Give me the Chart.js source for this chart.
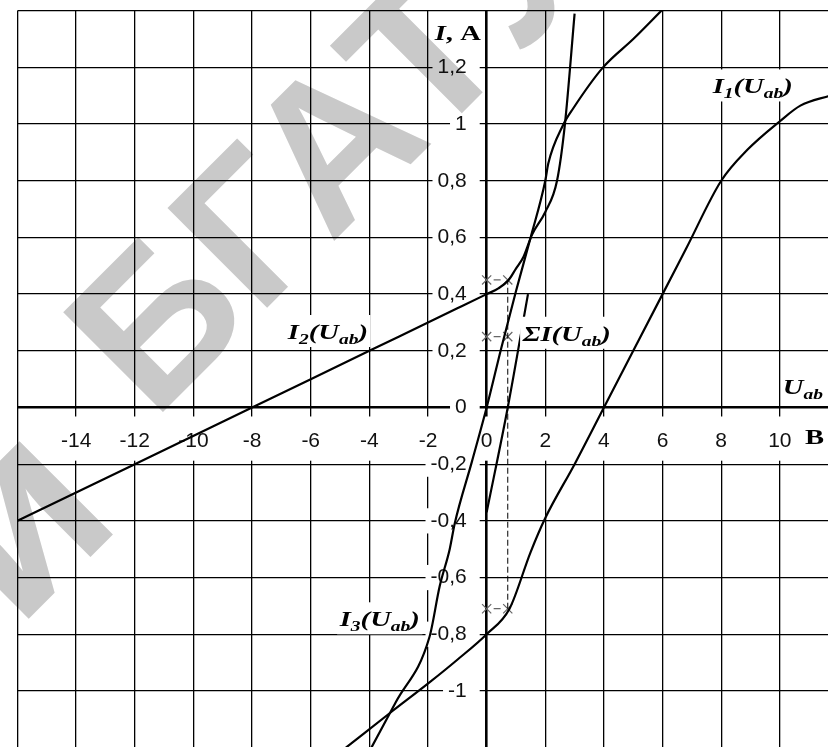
<!DOCTYPE html>
<html>
<head>
<meta charset="utf-8">
<script src="https://cdn.jsdelivr.net/npm/chart.js@4"></script>
<style>
  html, body { margin: 0; padding: 0; background: #fff; overflow: hidden; }
  #wrap { position: relative; width: 828px; height: 747px; overflow: hidden; }
  #plot { position: absolute; left: -40px; top: -40px; }
</style>
</head>
<body>
<div id="wrap"><canvas id="plot" width="900" height="820"></canvas></div>
<script>
// --- branch characteristics I(Uab) ---
const I1_U = [-4.8, -3.2, -1.95, -1.0, 0, 0.78, 1.5, 2, 3, 4, 5, 6, 6.8, 8, 8.9, 10, 10.7, 11.7, 12];
const I1_I = [-1.2, -1.07, -0.97, -0.89, -0.8, -0.71, -0.51, -0.39, -0.2, 0, 0.2, 0.4, 0.56, 0.8, 0.91, 1.01, 1.065, 1.1, 1.11];

const I2_U = [-16, -12, -8, -4, -2, -1, 0, 0.4, 0.75, 1.0, 1.25, 1.55, 2.0, 2.4, 2.67, 3.0];
const I2_I = [-0.4, -0.2, 0, 0.2, 0.3, 0.35, 0.4, 0.42, 0.45, 0.49, 0.53, 0.61, 0.69, 0.8, 1.0, 1.39];

const I3_U = [-3.93, -3.1, -1.95, -1.6, -1.26, -1.09, -0.5, 0, 0.5, 1.0, 1.5, 2.0, 2.1, 2.6, 2.95, 3.97, 5.0, 5.96];
const I3_I = [-1.2, -1.04, -0.81, -0.63, -0.5, -0.41, -0.19, 0, 0.21, 0.41, 0.6, 0.8, 0.86, 0.995, 1.055, 1.2, 1.3, 1.4];

const SUM_U = [0, 0.72, 1.41];
const SUM_I = [-0.37, 0, 0.4];

// operating point: Uab where the sum crosses zero, and branch currents there
const OP_U = [0, 0.72];
const OP_LEVELS = [0.45, 0.25, -0.71];
const OP_DROP = [-0.71, 0.45];

// axes
const U_MIN = -16, U_MAX = 12, U_STEP = 2;
const I_MIN = -1.2, I_MAX = 1.4, I_STEP = 0.2;
const HIDDEN_U = [-16, 12];
const HIDDEN_I = [1.4, -1.2];

const pts = (xs, ys) => xs.map((x, i) => ({ x: x, y: ys[i] }));
const near = (v, list) => list.some(t => Math.abs(v - t) < 1e-6);
const fmt = v => String(Math.round(v * 10) / 10).replace('.', ',');

function curve(xs, ys) {
    return {
        data: pts(xs, ys),
        showLine: true,
        borderColor: '#000',
        borderWidth: 2.2,
        pointRadius: 0,
        cubicInterpolationMode: 'monotone',
        fill: false
    };
}

const opMarks = OP_LEVELS.map(level => ({
    data: pts(OP_U, OP_U.map(() => level)),
    showLine: true,
    borderColor: '#666',
    borderWidth: 1.2,
    borderDash: [0, 7, 7, 7],
    pointStyle: 'crossRot',
    pointRadius: 6.5,
    pointBorderColor: '#666',
    pointBorderWidth: 1.2
}));

const dropLine = {
    data: pts([OP_U[1], OP_U[1]], OP_DROP),
    showLine: true,
    borderColor: '#000',
    borderWidth: 1,
    borderDash: [6, 3],
    pointRadius: 0
};

// text placed next to the curves (data coordinates, left/baseline)
const M = 'bold italic 22px "Liberation Serif", "Times New Roman", serif';
const S = 'bold italic 15px "Liberation Serif", "Times New Roman", serif';
const R = 'bold 22px "Liberation Serif", "Times New Roman", serif';
const STRETCH = 1.3;

const NOTES = [
    { u: 7.71, i: 1.108, box: true, parts: [['I', M], ['1', S], ['(', M], ['U', M], ['ab', S], [')', M]] },
    { u: -6.78, i: 0.2416, box: true, parts: [['I', M], ['2', S], ['(', M], ['U', M], ['ab', S], [')', M]] },
    { u: 1.23, i: 0.2355, box: true, parts: [['\u03A3', M], ['I', M], ['(', M], ['U', M], ['ab', S], [')', M]] },
    { u: -5.01, i: -0.772, box: true, parts: [['I', M], ['3', S], ['(', M], ['U', M], ['ab', S], [')', M]] },
    { u: -1.77, i: 1.297, box: false, parts: [['I', M], [', A', R]] },
    { u: 10.1, i: 0.047, box: false, parts: [['U', M], ['ab', S]] },
    { u: 10.86, i: -0.13, box: false, parts: [['\u0412', R]] }
];

function drawNote(ctx, x, y, note) {
    ctx.save();
    ctx.translate(x, y);
    ctx.scale(STRETCH, 1);
    let w = 0;
    note.parts.forEach(p => { ctx.font = p[1]; w += ctx.measureText(p[0]).width; });
    if (note.box) {
        ctx.fillStyle = '#fff';
        ctx.fillRect(-2, -24, w + 4, 32);
    }
    ctx.fillStyle = '#000';
    ctx.textBaseline = 'alphabetic';
    let cx = 0;
    note.parts.forEach(p => {
        ctx.font = p[1];
        ctx.fillText(p[0], cx, p[1] === S ? 5 : 0);
        cx += ctx.measureText(p[0]).width;
    });
    ctx.restore();
}

const notesPlugin = {
    id: 'notes',
    afterDatasetsDraw(chart) {
        const { ctx, scales } = chart;
        NOTES.forEach(n => drawNote(ctx, scales.x.getPixelForValue(n.u), scales.y.getPixelForValue(n.i), n));
    }
};

// library stamp across the sheet, multiplied over the drawing
function stampWord(ctx, text, size, cx, cy) {
    ctx.save();
    ctx.font = 'bold ' + size + 'px "Liberation Sans", Arial, sans-serif';
    ctx.textAlign = 'center';
    ctx.textBaseline = 'middle';
    ctx.translate(cx, cy);
    ctx.rotate(-Math.PI / 4);
    ctx.fillText(text, 0, 0);
    ctx.restore();
}

const stampPlugin = {
    id: 'stamp',
    afterDraw(chart) {
        const ctx = chart.ctx;
        ctx.save();
        ctx.globalCompositeOperation = 'multiply';
        ctx.fillStyle = '#c9c9c9';
        stampWord(ctx, '\u0411\u0413\u0410\u0422\u0423', 205, 380, 195);
        stampWord(ctx, '\u0439', 250, 62, 568);
        ctx.restore();
    }
};

const tickFont = { family: '"Liberation Sans", Arial, sans-serif', size: 21 };
const zeroWidth = c => (c.tick && Math.abs(c.tick.value) < 1e-9) ? 2.6 : 1.3;

new Chart(document.getElementById('plot'), {
    type: 'scatter',
    data: {
        datasets: [
            curve(I1_U, I1_I),
            curve(I2_U, I2_I),
            curve(I3_U, I3_I),
            curve(SUM_U, SUM_I),
            dropLine,
            ...opMarks
        ]
    },
    options: {
        responsive: false,
        animation: false,
        devicePixelRatio: 1,
        layout: { padding: { left: 57.5, top: 50.7, right: 21.5, bottom: 32.4 } },
        plugins: { legend: { display: false }, tooltip: { enabled: false } },
        scales: {
            x: {
                type: 'linear',
                min: U_MIN, max: U_MAX,
                position: { y: 0 },
                border: { display: false },
                grid: { color: '#000', lineWidth: zeroWidth, drawTicks: false },
                ticks: {
                    stepSize: U_STEP,
                    autoSkip: false, maxRotation: 0, minRotation: 0,
                    padding: 21,
                    color: '#111',
                    font: tickFont,
                    callback: v => near(v, HIDDEN_U) ? '' : fmt(v),
                    showLabelBackdrop: c => !near(c.tick.value, HIDDEN_U),
                    backdropColor: '#fff',
                    backdropPadding: { top: 12, bottom: 7, left: 4, right: 4 }
                }
            },
            y: {
                type: 'linear',
                min: I_MIN, max: I_MAX,
                position: { x: -0.68 },
                border: { display: false },
                grid: { color: '#000', lineWidth: zeroWidth, drawTicks: false },
                ticks: {
                    stepSize: I_STEP,
                    autoSkip: false,
                    color: '#111',
                    font: tickFont,
                    callback: v => near(v, HIDDEN_I) ? '' : fmt(v),
                    showLabelBackdrop: c => !near(c.tick.value, HIDDEN_I),
                    backdropColor: '#fff',
                    backdropPadding: { top: 0, bottom: 0, left: 5, right: 13 }
                }
            }
        }
    },
    plugins: [notesPlugin, stampPlugin]
});
</script>
</body>
</html>
